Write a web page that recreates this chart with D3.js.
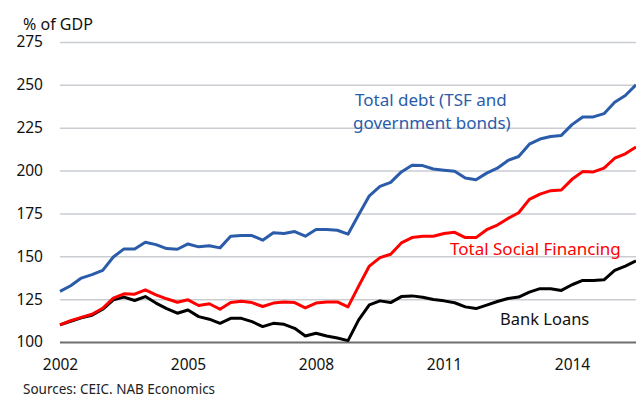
<!DOCTYPE html>
<html>
<head>
<meta charset="utf-8">
<title>China debt</title>
<script src="https://d3js.org/d3.v7.min.js"></script>
<style>
  body { margin: 0; background: #fff; }
  svg text { font-family: "Noto Sans", sans-serif; }
</style>
</head>
<body>
<svg id="chart" width="636" height="396"></svg>
<script>
// quarterly observations, starting 2002 Q1
const startYear = 2002
const totalDebt = [129.5, 132.8, 137.3, 139.3, 141.8, 149.6, 154.3, 154.3, 158.2, 156.8,
  154.5, 154.1, 157.2, 155.5, 156.2, 154.9, 161.7, 162.1, 162.1, 159.4,
  163.7, 163.3, 164.4, 161.7, 165.6, 165.6, 165.2, 162.9, 174.2, 185.3,
  190.8, 193.1, 199.2, 203.1, 202.9, 200.9, 200.2, 199.6, 195.7, 194.7,
  198.5, 201.4, 205.9, 208.2, 215.4, 218.4, 219.9, 220.5, 226.8, 231.3,
  231.3, 233.2, 239.8, 243.8, 250.0]
const tsf = [110.0, 112.5, 114.4, 116.2, 119.7, 125.6, 128.1, 127.9, 130.4, 127.5,
  125.2, 123.2, 124.6, 121.3, 122.3, 119.1, 123.0, 123.8, 123.0, 120.7,
  122.7, 123.4, 123.0, 119.9, 122.7, 123.4, 123.4, 120.5, 132.6, 144.3,
  149.2, 151.2, 157.8, 160.9, 161.7, 161.7, 163.3, 164.0, 160.9, 160.9,
  165.5, 168.2, 172.1, 175.4, 183.2, 186.3, 188.3, 188.7, 194.9, 199.4,
  199.2, 201.4, 207.2, 209.8, 213.7]
const bankLoans = [110.0, 112.1, 114.1, 115.6, 119.1, 124.6, 126.2, 124.2, 126.5, 122.7,
  119.5, 116.8, 118.7, 114.8, 113.3, 110.9, 113.8, 113.8, 111.9, 109.0,
  110.9, 110.3, 108.0, 103.5, 105.1, 103.5, 102.3, 100.8, 112.9, 121.7,
  124.0, 123.0, 126.5, 126.9, 126.1, 124.8, 124.0, 122.9, 120.5, 119.5,
  121.5, 123.6, 125.4, 126.2, 129.1, 131.1, 131.1, 130.1, 133.4, 135.9,
  135.9, 136.3, 141.8, 144.3, 147.3]
const yTicks = [100, 125, 150, 175, 200, 225, 250, 275]
const xTicks = [2002, 2005, 2008, 2011, 2014]

const svg = d3.select("#chart")
const margin = { top: 42, right: 0, bottom: 54, left: 60 }
const width = +svg.attr("width")
const height = +svg.attr("height")
const innerWidth = width - margin.left - margin.right
const innerHeight = height - margin.top - margin.bottom

const x = d3.scaleLinear()
  .domain([startYear, startYear + 13.5])
  .range([0, innerWidth])
const y = d3.scaleLinear()
  .domain([100, 275])
  .range([innerHeight, 0])

const g = svg.append("g")
  .attr("transform", `translate(${margin.left},${margin.top})`)

// gridlines + y labels
const yAxis = d3.axisLeft(y)
  .tickValues(yTicks)
  .tickSize(-innerWidth)
  .tickPadding(17)
const yg = g.append("g").call(yAxis)
yg.select(".domain").remove()
yg.selectAll(".tick line")
  .attr("stroke", d => d === 100 ? "#6e6e6e" : "#c9cdd2")
  .attr("stroke-width", d => d === 100 ? 2 : 1.5)
yg.selectAll(".tick text")
  .attr("fill", "#111")
  .style("font-size", "15.5px")

// x labels
const xAxis = d3.axisBottom(x)
  .tickValues(xTicks)
  .tickFormat(d3.format("d"))
  .tickSize(0)
  .tickPadding(17)
const xg = g.append("g")
  .attr("transform", `translate(0,${innerHeight})`)
  .call(xAxis)
xg.select(".domain").remove()
xg.selectAll(".tick text")
  .attr("fill", "#111")
  .style("font-size", "15.5px")

const line = d3.line()
  .x((d, i) => x(startYear + i * 0.25))
  .y(d => y(d))

const series = [
  { values: bankLoans, color: "#000000" },
  { values: tsf, color: "#ff0000" },
  { values: totalDebt, color: "#2a5caa" }
]
g.selectAll("path.series")
  .data(series)
  .enter()
  .append("path")
  .attr("class", "series")
  .attr("d", d => line(d.values))
  .attr("fill", "none")
  .attr("stroke", d => d.color)
  .attr("stroke-width", 3)
  .attr("stroke-linejoin", "round")

// labels
svg.append("text")
  .attr("x", 23).attr("y", 30)
  .attr("fill", "#111")
  .style("font-size", "16px")
  .text("% of GDP")

const debtLabel = svg.append("text")
  .attr("fill", "#2a5caa")
  .style("font-size", "17px")
debtLabel.append("tspan").attr("x", 355).attr("y", 106).text("Total debt (TSF and")
debtLabel.append("tspan").attr("x", 353).attr("y", 129).text("government bonds)")

svg.append("text")
  .attr("x", 450).attr("y", 255)
  .attr("fill", "#ff0000")
  .style("font-size", "17px")
  .text("Total Social Financing")

svg.append("text")
  .attr("x", 500).attr("y", 325)
  .attr("fill", "#111")
  .style("font-size", "16.5px")
  .text("Bank Loans")

svg.append("text")
  .attr("x", 23).attr("y", 394)
  .attr("fill", "#222")
  .style("font-size", "13.5px")
  .text("Sources: CEIC. NAB Economics")
</script>
</body>
</html>
